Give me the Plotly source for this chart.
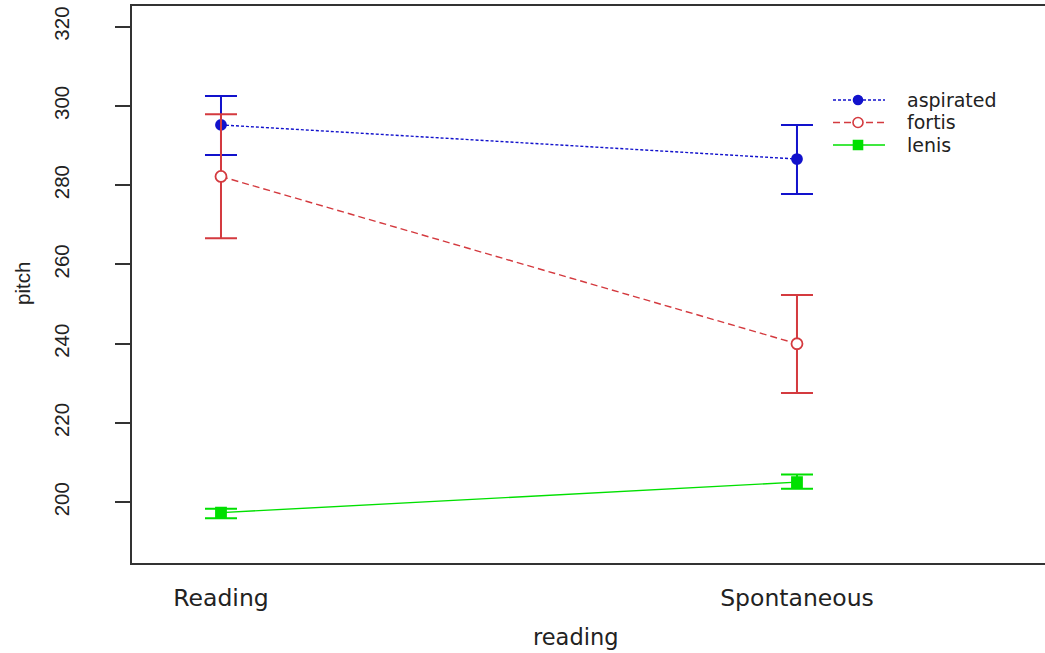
import plotly.graph_objects as go

categories = ["Reading", "Spontaneous"]
groups = ["aspirated", "fortis", "lenis"]

aspirated_mean = [295.2, 286.6]
aspirated_upper = [302.5, 295.2]
aspirated_lower = [287.6, 277.8]

fortis_mean = [282.2, 240.0]
fortis_upper = [297.9, 252.3]
fortis_lower = [266.6, 227.6]

lenis_mean = [197.4, 205.1]
lenis_upper = [198.4, 207.0]
lenis_lower = [196.0, 203.4]

y_ticks = [200, 220, 240, 260, 280, 300, 320]

W, H = 1045, 653
L, R, T, B = 132, 0, 6, 90
PW, PH = W - L - R, H - T - B

def px_x(p):
    return (p - L) / PW

def px_y(p):
    return (H - B - p) / PH

styles = {
    "aspirated": dict(color="#1212cc", dash="3px,2px", symbol="circle", size=10, fill="#1212cc"),
    "fortis": dict(color="#d43a3f", dash="7px,4px", symbol="circle", size=11, fill="white"),
    "lenis": dict(color="#00e000", dash="solid", symbol="square", size=10, fill="#00e000"),
}
data = {
    "aspirated": (aspirated_mean, aspirated_upper, aspirated_lower),
    "fortis": (fortis_mean, fortis_upper, fortis_lower),
    "lenis": (lenis_mean, lenis_upper, lenis_lower),
}

fig = go.Figure()
for g in groups:
    m, up, lo = data[g]
    s = styles[g]
    fig.add_trace(go.Scatter(
        x=categories, y=m, mode="lines+markers", name=g, showlegend=False,
        line=dict(color=s["color"], width=1.4, dash=s["dash"]),
        marker=dict(symbol=s["symbol"], size=s["size"],
                    color=s["fill"], line=dict(color=s["color"], width=1.8)),
        error_y=dict(type="data", symmetric=False,
                     array=[u - v for u, v in zip(up, m)],
                     arrayminus=[v - l for v, l in zip(m, lo)],
                     color=s["color"], thickness=2, width=16),
    ))

# legend drawn on an overlay axis with pixel-based paper coordinates
leg_rows = [100, 122.5, 145]
for g, yy in zip(groups, leg_rows):
    s = styles[g]
    fig.add_trace(go.Scatter(
        x=[px_x(833), px_x(885)], y=[px_y(yy), px_y(yy)], xaxis="x2", yaxis="y2",
        mode="lines", showlegend=False, hoverinfo="skip",
        line=dict(color=s["color"], width=1.4, dash=s["dash"]),
    ))
    fig.add_trace(go.Scatter(
        x=[px_x(858)], y=[px_y(yy)], xaxis="x2", yaxis="y2",
        mode="markers", showlegend=False, hoverinfo="skip",
        marker=dict(symbol=s["symbol"], size=s["size"] - 1,
                    color=s["fill"], line=dict(color=s["color"], width=1.6)),
    ))
    fig.add_annotation(x=px_x(905), y=px_y(yy), xref="paper", yref="paper",
                       text=g, showarrow=False, xanchor="left", yanchor="middle",
                       font=dict(family="DejaVu Sans", size=19, color="#222"))

fig.add_annotation(x=px_x(575), y=px_y(637), xref="paper", yref="paper",
                   text="reading", showarrow=False, xanchor="center", yanchor="middle",
                   font=dict(family="DejaVu Sans", size=22.5, color="#222"))
fig.add_annotation(x=px_x(22), y=px_y(284), xref="paper", yref="paper",
                   text="pitch", showarrow=False, xanchor="center", yanchor="middle",
                   textangle=-90,
                   font=dict(family="Liberation Sans", size=20.5, color="#222"))

fig.update_layout(
    width=W, height=H,
    margin=dict(l=L, r=R, t=T, b=B),
    paper_bgcolor="white", plot_bgcolor="white",
    showlegend=False,
    xaxis=dict(
        type="category", range=[-0.1545, 1.4306],
        showgrid=False, zeroline=False,
        showline=True, mirror=True, linecolor="#333", linewidth=1.6,
        ticks="", ticklabelstandoff=13,
        tickfont=dict(family="DejaVu Sans", size=23.5, color="#222"),
    ),
    yaxis=dict(
        range=[184.7, 325.2], tickvals=y_ticks,
        showgrid=False, zeroline=False,
        showline=True, linecolor="#333", linewidth=1.6,
        ticks="outside", ticklen=15, tickwidth=1.5, tickcolor="#333",
        tickangle=-90, ticklabelstandoff=38,
        tickfont=dict(family="Liberation Sans", size=20.5, color="#222"),
    ),
    xaxis2=dict(overlaying="x", range=[0, 1], visible=False, fixedrange=True),
    yaxis2=dict(overlaying="y", range=[0, 1], visible=False, fixedrange=True),
)

fig.write_html("out.html")
